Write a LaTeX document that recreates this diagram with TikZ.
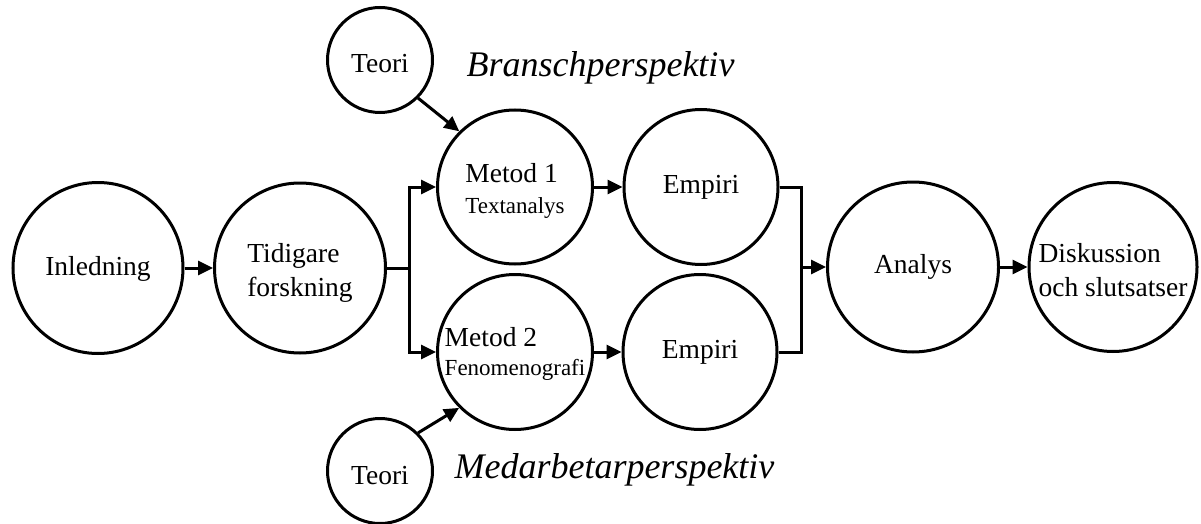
\documentclass[tikz,border=0pt]{standalone}
\usepackage{fontspec}
\setmainfont{Liberation Serif}
\usetikzlibrary{arrows.meta,shapes.geometric}
\begin{document}
\begin{tikzpicture}[x=1pt,y=-1pt,
  bub/.style={draw,ellipse,line width=3pt,inner sep=0pt},
  txt/.style={align=left,inner sep=0pt,font=\fontsize{27.5}{34}\selectfont},
  conn/.style={line width=3pt},
  arr/.style={conn,-{Triangle[length=15pt,width=14pt]}},
  persp/.style={font=\fontsize{36}{40}\selectfont\itshape}]
\useasboundingbox (0,0) rectangle (1201,524);
\node[bub,minimum width=170pt,minimum height=171pt,label={[txt,yshift=-1pt]center:Inledning}] (inl) at (98,268) {};
\node[bub,minimum width=171pt,minimum height=170pt,label={[txt,yshift=-5pt]center:Tidigare\\forskning}] (tid) at (300,268) {};
\node[bub,minimum width=155pt,minimum height=154pt,label={[txt,yshift=-4pt]center:Metod 1\\[-3pt]{\fontsize{23}{28}\selectfont Textanalys}}] (m1) at (515,187) {};
\node[bub,minimum width=155pt,minimum height=155pt,label={[txt,yshift=-2pt]center:Metod 2\\[-5pt]{\fontsize{23}{28}\selectfont Fenomenografi}}] (m2) at (515,352) {};
\node[bub,minimum width=154pt,minimum height=155pt,label={[txt]center:Empiri}] (e1) at (701,187) {};
\node[bub,minimum width=154pt,minimum height=155pt,label={[txt]center:Empiri}] (e2) at (700,352) {};
\node[bub,minimum width=171pt,minimum height=170pt,label={[txt]center:Analys}] (ana) at (913,267) {};
\node[bub,minimum width=168pt,minimum height=169pt,label={[txt,yshift=-3pt]center:Diskussion\\och slutsatser}] (dis) at (1113,267) {};
\node[bub,minimum width=105pt,minimum height=105pt,label={[txt,yshift=-4pt]center:Teori}] (t1) at (380,60) {};
\node[bub,minimum width=105pt,minimum height=105pt,label={[txt,yshift=-5pt]center:Teori}] (t2) at (380,471) {};
\node[persp,anchor=west] (bp) at (463,68) {Branschperspektiv};
\node[persp,anchor=west] (mp) at (451,470) {Medarbetarperspektiv};
\coordinate (sp) at (409,268);
\coordinate (mg) at (801,267);
\draw[arr] (inl) -- (tid);
\draw[conn] (tid.east) -- (sp);
\draw[arr] (sp) |- (m1.west);
\draw[arr] (sp) |- (m2.west);
\draw[arr] (m1) -- (e1);
\draw[arr] (m2) -- (e2);
\draw[conn] (e1.east) -| (mg);
\draw[conn] (e2.east) -| (mg);
\draw[arr] (mg) -- (ana.west);
\draw[arr] (ana) -- (dis);
\draw[arr] (t1.-45) -- (m1.135);
\draw[arr] (t2.45) -- (m2.225);
\end{tikzpicture}
\end{document}
